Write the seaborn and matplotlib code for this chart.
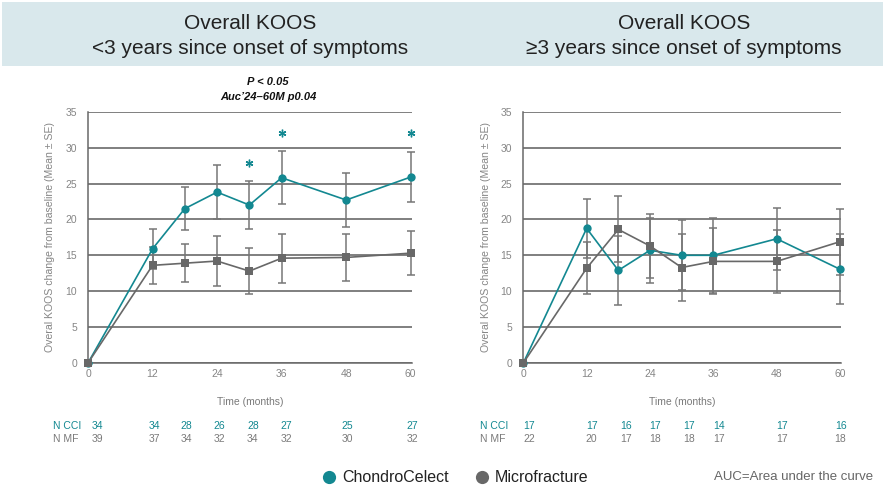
import numpy as np
import pandas as pd
import matplotlib
matplotlib.use("Agg")
import matplotlib.pyplot as plt
import matplotlib.transforms as mtransforms
from matplotlib.patches import Rectangle
from matplotlib.lines import Line2D
import seaborn as sns

# ---- data -------------------------------------------------------------
months = [0, 12, 18, 24, 30, 36, 48, 60]

# < 3 years since onset of symptoms
cci_short = [0, 15.9, 21.5, 23.8, 22.0, 25.8, 22.7, 25.9]
cci_short_se = [0, 2.8, 3.0, 3.8, 3.3, 3.7, 3.7, 3.45]
mf_short = [0, 13.6, 13.9, 14.2, 12.8, 14.6, 14.7, 15.3]
mf_short_se = [0, 2.6, 2.65, 3.5, 3.2, 3.4, 3.3, 3.1]

# >= 3 years since onset of symptoms
cci_long = [0, 18.75, 12.9, 15.7, 15.0, 15.0, 17.3, 13.05]
cci_long_se = [0, 4.1, 4.8, 4.5, 4.85, 5.25, 4.35, 4.85]
mf_long = [0, 13.2, 18.6, 16.3, 13.3, 14.15, 14.15, 16.9]
mf_long_se = [0, 3.6, 4.6, 4.4, 4.7, 4.6, 4.35, 4.6]

n_cci_short = [34, 34, 28, 26, 28, 27, 25, 27]
n_mf_short = [39, 37, 34, 32, 34, 32, 30, 32]
n_cci_long = [17, 17, 16, 17, 17, 14, 17, 16]
n_mf_long = [22, 20, 17, 18, 18, 17, 17, 18]

star_months = [30, 36, 60]
star_levels = [27.9, 32.0, 32.0]

groups = ["ChondroCelect", "Microfracture"]
titles = ["Overall KOOS\n<3 years since onset of symptoms",
          "Overall KOOS\n\u22653 years since onset of symptoms"]
y_ticks = [0, 5, 10, 15, 20, 25, 30, 35]
x_ticks = [0, 12, 24, 36, 48, 60]

# ---- style ------------------------------------------------------------
TEAL = "#138891"
GREY = "#686868"
BAR = "#767676"
GRID = "#5c5c5c"
LABEL = "#858585"

sns.set_style("white")
plt.rcParams["font.family"] = ["Liberation Sans", "DejaVu Sans"]

W, H = 886, 487
fig = plt.figure(figsize=(W / 100, H / 100), dpi=100)

# header band
fig.add_artist(Rectangle((2 / W, 1 - 66 / H), 881 / W, 64 / H,
                         transform=fig.transFigure, facecolor="#d9e8ec",
                         edgecolor="none", zorder=0))


def px_axes(x0, x1, y0, y1):
    return fig.add_axes([x0 / W, 1 - y1 / H, (x1 - x0) / W, (y1 - y0) / H])


ax_l = px_axes(88, 411.8, 111.7, 363)
ax_r = px_axes(523.3, 841.1, 111.7, 363)

panels = [
    (ax_l, cci_short, cci_short_se, mf_short, mf_short_se,
     n_cci_short, n_mf_short, [9, 1.5, 1.5, 2, 3.5, 5, 1, 1.5], -35),
    (ax_r, cci_long, cci_long_se, mf_long, mf_long_se,
     n_cci_long, n_mf_long, [6, 5, 8, 5, 7, 6, 5, 0.5], -43),
]

for (ax, cci, cci_se, mf, mf_se, n_cci, n_mf, n_shift,
     n_label_dx) in panels:
    df = pd.DataFrame({
        "month": months * 2,
        "koos": cci + mf,
        "group": [groups[0]] * len(months) + [groups[1]] * len(months),
    })

    # error bars (mean +/- SE) behind the lines
    for vals, se in ((mf, mf_se), (cci, cci_se)):
        m = np.array(months)
        v = np.array(vals)
        s = np.array(se)
        keep = s > 0
        ax.errorbar(m[keep], v[keep], yerr=s[keep], fmt="none",
                    ecolor=BAR, elinewidth=1.1, capsize=2.8,
                    capthick=1.1, zorder=2)

    sns.lineplot(data=df, x="month", y="koos", hue="group", style="group",
                 hue_order=groups, style_order=groups,
                 palette={groups[0]: TEAL, groups[1]: GREY},
                 markers={groups[0]: "o", groups[1]: "s"}, dashes=False,
                 markersize=6, markeredgewidth=0, linewidth=1.2,
                 legend=False, ax=ax, clip_on=False, zorder=3)
    for ln in ax.lines:
        ln.set_clip_on(False)

    ax.set_xlim(0, 60.2)
    ax.set_ylim(0, 35)
    ax.set_yticks(y_ticks)
    ax.set_xticks(x_ticks)
    ax.yaxis.grid(True, color=GRID, linewidth=1.1)
    ax.xaxis.grid(False)
    ax.set_axisbelow(True)
    for side in ("top", "right"):
        ax.spines[side].set_visible(False)
    for side in ("left", "bottom"):
        ax.spines[side].set_color(GREY)
        ax.spines[side].set_linewidth(1.1)
        ax.spines[side].set_zorder(1)
    ax.tick_params(axis="y", length=0, pad=8, labelsize=7.5,
                   labelcolor=LABEL)
    ax.tick_params(axis="x", direction="inout", length=5, width=1,
                   color=GREY, pad=2, labelsize=7.5, labelcolor=LABEL)

    ax.set_ylabel("Overal KOOS change from baseline (Mean \u00b1 SE)",
                  fontsize=7.6, color=LABEL)
    ax.yaxis.set_label_coords(-0.102, 0.5)
    ax.set_xlabel("Time (months)", fontsize=7.5, color="#7a7a7a")
    ax.xaxis.set_label_coords(0.5, -0.137)

    # number-at-risk rows
    tr = mtransforms.blended_transform_factory(ax.transData, fig.transFigure)
    for i, (mo, a, b) in enumerate(zip(months, n_cci, n_mf)):
        off = mtransforms.ScaledTranslation(n_shift[i] / 100, 0,
                                            fig.dpi_scale_trans)
        ax.text(mo, 1 - 426 / H, str(a), transform=tr + off, ha="center",
                va="center", fontsize=7.5, color=TEAL, clip_on=False)
        ax.text(mo, 1 - 439 / H, str(b), transform=tr + off, ha="center",
                va="center", fontsize=7.5, color="#7a7a7a", clip_on=False)
    off = mtransforms.ScaledTranslation(n_label_dx / 100, 0,
                                        fig.dpi_scale_trans)
    ax.text(0, 1 - 426 / H, "N CCI", transform=tr + off, ha="left",
            va="center", fontsize=7.5, color=TEAL, clip_on=False)
    ax.text(0, 1 - 439 / H, "N MF", transform=tr + off, ha="left",
            va="center", fontsize=7.5, color="#7a7a7a", clip_on=False)

# headings
for title, cx in zip(titles, [250, 684]):
    l1, l2 = title.split("\n")
    fig.text(cx / W, 1 - 29 / H, l1, ha="center", va="baseline",
             fontsize=15, color="#222222")
    fig.text(cx / W, 1 - 54 / H, l2, ha="center", va="baseline",
             fontsize=15, color="#222222")

# significance notes on the short-duration panel
fig.text(268 / W, 1 - 82 / H, "P < 0.05", ha="center", va="center",
         fontsize=8, fontweight="bold", fontstyle="italic", color="#111111")
fig.text(268 / W, 1 - 97 / H, "Auc\u201924\u201360M p0.04", ha="center",
         va="center", fontsize=8, fontweight="bold", fontstyle="italic",
         color="#111111")
ax_l.plot(star_months, star_levels, linestyle="none", marker=(6, 2, 0),
          markersize=5.5, markeredgewidth=1.0, color=TEAL, clip_on=False,
          zorder=4)

# legend
handles = [Line2D([], [], marker="o", linestyle="none", markersize=9.5,
                  markerfacecolor=c, markeredgewidth=0, label=g)
           for g, c in zip(groups, [TEAL, GREY])]
fig.legend(handles=handles, loc="center", ncol=2, frameon=False,
           bbox_to_anchor=(455 / W, 1 - 478 / H), fontsize=11.5,
           handletextpad=0.3, columnspacing=1.6, handlelength=1.0,
           labelcolor="#222222")

fig.text(873 / W, 1 - 477 / H, "AUC=Area under the curve", ha="right",
         va="center", fontsize=9.5, color="#666666")

fig.savefig("out.png", dpi=100)
